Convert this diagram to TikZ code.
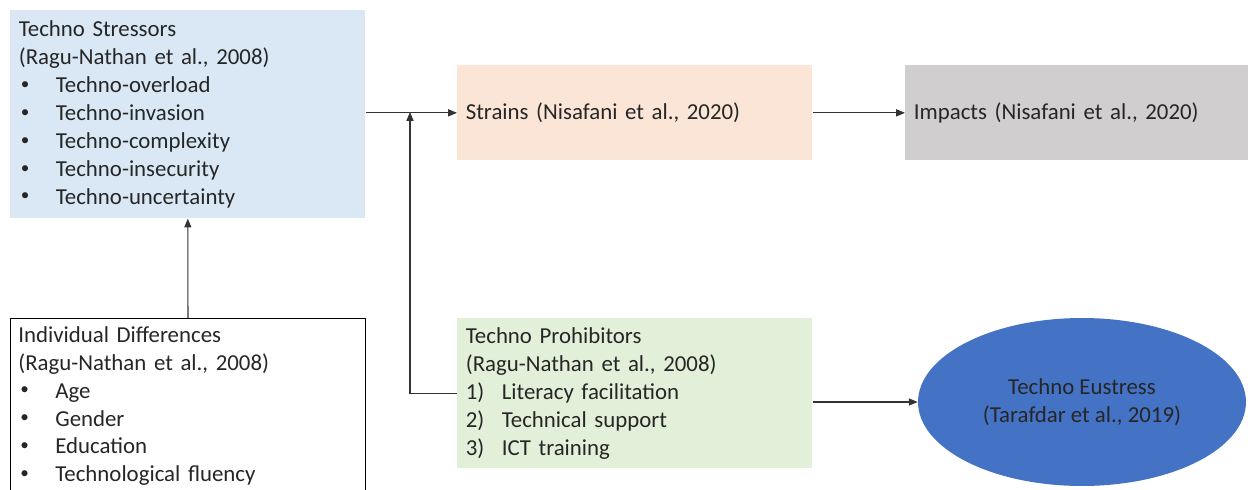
\documentclass[tikz,border=0pt]{standalone}
\usepackage{fontspec}
\setmainfont{Carlito}
\usepackage{xcolor}
\usepackage{tikz}
\usetikzlibrary{shapes.geometric}
\usetikzlibrary{arrows.meta}
\usetikzlibrary{positioning}
\definecolor{stressblue}{HTML}{DAE8F5}
\definecolor{strainpeach}{HTML}{FBE5D6}
\definecolor{impactgray}{HTML}{D0CECE}
\definecolor{prohibgreen}{HTML}{E2F0D9}
\definecolor{eublue}{HTML}{4472C4}
\newcommand{\bul}[1]{\makebox[0.74cm][l]{\hspace{0.04cm}\raisebox{0.3ex}{\scalebox{0.75}{\textbullet}}}#1}
\newcommand{\num}[2]{\makebox[0.72cm][l]{#1)}#2}
\tikzset{
    Box/.style = {rectangle, anchor=north west, align=left, inner xsep=0.17cm, text=black!85,
                  font=\fontsize{13pt}{15.9pt}\selectfont},
    stressbox/.style = {Box, fill=stressblue, minimum width=7.1cm, minimum height=4.16cm, text width=6.76cm},
    strainbox/.style = {Box, fill=strainpeach, minimum width=7.1cm, minimum height=1.9cm, text width=6.76cm},
    impactbox/.style = {Box, fill=impactgray, minimum width=6.9cm, minimum height=1.9cm, text width=6.56cm},
    prohibbox/.style = {Box, fill=prohibgreen, minimum width=7.1cm, minimum height=3cm, text width=6.76cm},
    indbox/.style = {Box, draw=black, line width=0.6pt, minimum width=7.1cm, minimum height=4cm},
    eunode/.style = {ellipse, fill=eublue, minimum width=6.56cm, minimum height=3.36cm, align=center,
                  text=black!85, font=\fontsize{13pt}{15.9pt}\selectfont},
    arr/.style = {-{Triangle[length=5pt,width=4pt]}, line width=0.6pt, black!80},
}
\begin{document}
\begin{tikzpicture}[x=0.02cm, y=-0.02cm]
  \useasboundingbox (0,0) rectangle (1248,490);
  \begin{scope}
  \clip (0,0) rectangle (1248,490);
  \node[stressbox] (stress) at (10,10) {Techno Stressors\\(Ragu-Nathan et al., 2008)\\
      \bul{Techno-overload}\\\bul{Techno-invasion}\\\bul{Techno-complexity}\\
      \bul{Techno-insecurity}\\\bul{Techno-uncertainty}};
  \node[strainbox] (strains) at (457,65) {Strains (Nisafani et al., 2020)};
  \node[impactbox] (impacts) at (905,65) {Impacts (Nisafani et al., 2020)};
  \node[prohibbox] (prohib) at (457,318) {Techno Prohibitors\\(Ragu-Nathan et al., 2008)\\
      \num{1}{Literacy facilitation}\\\num{2}{Technical support}\\\num{3}{ICT training}};
  \node[indbox] (indiv) at (10,318) {};
  \node[Box, anchor=north west, inner sep=0pt, text width=6.7cm] (indtxt) at (18,326)
      {Individual Differences\\(Ragu-Nathan et al., 2008)\\
      \bul{Age}\\\bul{Gender}\\\bul{Education}\\\bul{Technological fluency}};
  \node[eunode] (eustress) at (1082,402) {Techno Eustress\\(Tarafdar et al., 2019)};
  \end{scope}
  \coordinate (jn) at (410,112);
  \draw[arr] (stress.east |- strains.west) -- (strains.west);
  \draw[arr] (prohib.west) -| (jn);
  \draw[arr] (indiv.north) -- (stress.south);
  \draw[arr] (strains.east) -- (impacts.west);
  \draw[arr] (prohib.east |- eustress.west) -- (eustress.west);
\end{tikzpicture}
\end{document}
